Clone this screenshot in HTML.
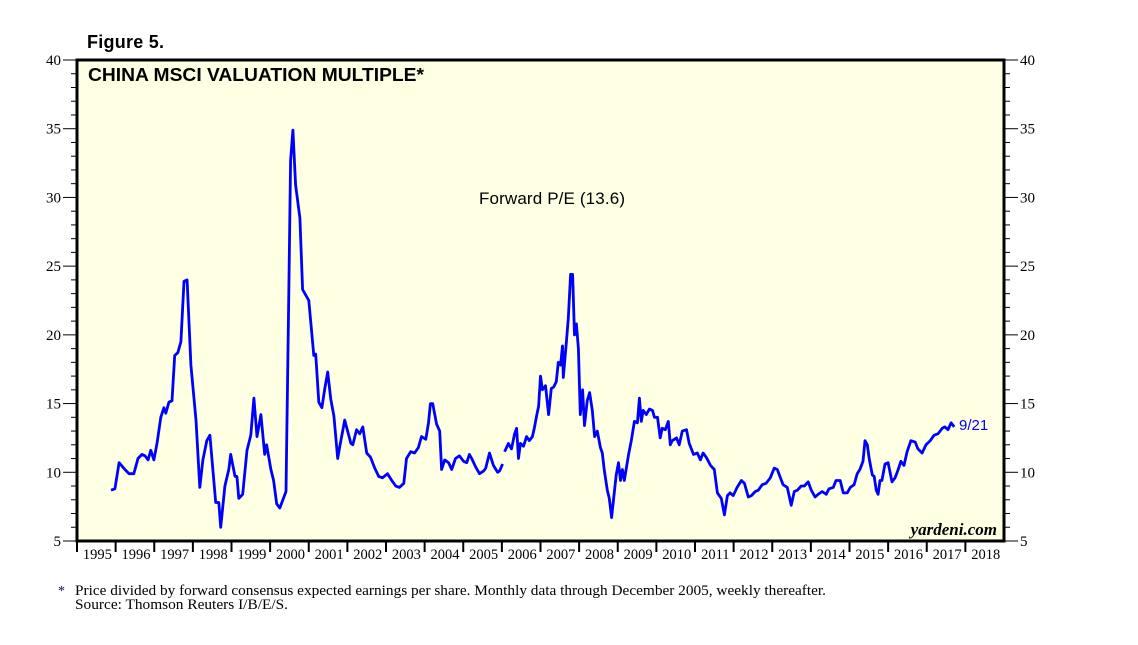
<!DOCTYPE html>
<html><head><meta charset="utf-8"><style>
body{margin:0;background:#fff;width:1138px;height:645px;overflow:hidden}
svg{display:block}
</style></head><body>
<svg width="1138" height="645" id="c">
<text x="87" y="48" font-family="Liberation Sans, sans-serif" font-weight="bold" font-size="18" textLength="77">Figure 5.</text>
<rect x="77" y="60" width="927" height="481" fill="#ffffe3"/>
<g id="axes"></g>
<path id="s1" fill="none" stroke="#0000ff" stroke-width="2.8" stroke-linejoin="round"/>
<path id="s2" fill="none" stroke="#0000ff" stroke-width="2.8" stroke-linejoin="round"/>
<rect x="77" y="60" width="927" height="481" fill="none" stroke="#000" stroke-width="3"/>
<text x="88" y="81" font-family="Liberation Sans, sans-serif" font-weight="bold" font-size="18" textLength="336" lengthAdjust="spacingAndGlyphs">CHINA MSCI VALUATION MULTIPLE*</text>
<text x="479" y="204" font-family="Liberation Sans, sans-serif" font-size="17" textLength="146">Forward P/E (13.6)</text>
<text x="959" y="430" font-family="Liberation Sans, sans-serif" font-size="15" fill="#0000ff">9/21</text>
<text x="997" y="535" text-anchor="end" font-family="Liberation Serif, serif" font-style="italic" font-weight="bold" font-size="17">yardeni.com</text>
<text x="58" y="595" font-family="Liberation Serif, serif" font-size="14" fill="#000080">*</text>
<text x="75" y="595" font-family="Liberation Serif, serif" font-size="14.5" textLength="751" lengthAdjust="spacingAndGlyphs">Price divided by forward consensus expected earnings per share. Monthly data through December 2005, weekly thereafter.</text>
<text x="75" y="609" font-family="Liberation Serif, serif" font-size="14.5" textLength="213" lengthAdjust="spacingAndGlyphs">Source: Thomson Reuters I/B/E/S.</text>
</svg>
<script>
const yTicks=[5,10,15,20,25,30,35,40];
const xYears=[1995,1996,1997,1998,1999,2000,2001,2002,2003,2004,2005,2006,2007,2008,2009,2010,2011,2012,2013,2014,2015,2016,2017,2018];
const monthlyT=[0.88,0.98,1.09,1.24,1.35,1.47,1.58,1.68,1.76,1.84,1.91,1.99,2.07,2.17,2.25,2.30,2.38,2.46,2.53,2.61,2.69,2.77,2.85,2.95,3.08,3.18,3.26,3.36,3.44,3.59,3.67,3.72,3.83,3.93,3.98,4.09,4.14,4.19,4.29,4.40,4.50,4.58,4.66,4.76,4.86,4.91,5.02,5.09,5.17,5.25,5.33,5.41,5.48,5.53,5.59,5.66,5.77,5.84,6.00,6.13,6.18,6.26,6.34,6.41,6.49,6.57,6.65,6.75,6.80,6.93,7.09,7.14,7.24,7.32,7.40,7.50,7.60,7.71,7.81,7.91,8.04,8.15,8.25,8.35,8.46,8.53,8.64,8.74,8.84,8.92,9.03,9.10,9.15,9.21,9.31,9.39,9.44,9.52,9.62,9.70,9.80,9.90,10.01,10.09,10.16,10.22,10.32,10.42,10.53,10.58,10.68,10.78,10.89,10.94,11.02];
const monthlyV=[8.7,8.8,10.7,10.2,9.9,9.9,11.0,11.3,11.2,10.9,11.6,10.9,12.1,14.0,14.7,14.3,15.1,15.2,18.5,18.7,19.5,23.9,24.0,17.8,13.8,8.9,10.9,12.3,12.7,7.8,7.8,6.0,9.0,10.2,11.3,9.7,9.7,8.1,8.4,11.6,12.7,15.4,12.6,14.2,11.3,12.0,10.2,9.4,7.7,7.4,8.0,8.6,22.5,32.7,34.9,30.9,28.5,23.3,22.5,18.5,18.6,15.1,14.7,16.0,17.3,15.3,14.1,11.0,11.8,13.8,12.1,12.0,13.1,12.8,13.3,11.4,11.1,10.3,9.7,9.6,9.9,9.4,9.0,8.9,9.2,11.0,11.5,11.4,11.8,12.6,12.4,13.6,15.0,15.0,13.5,13.0,10.2,10.9,10.7,10.2,11.0,11.2,10.8,10.7,11.3,11.0,10.4,9.9,10.1,10.3,11.4,10.5,10.0,10.1,10.6];
const weeklyT=[11.07,11.17,11.25,11.33,11.38,11.43,11.48,11.56,11.64,11.71,11.79,11.84,11.90,11.95,12.00,12.05,12.13,12.21,12.28,12.34,12.41,12.46,12.52,12.57,12.59,12.67,12.72,12.78,12.83,12.88,12.93,12.98,13.03,13.09,13.14,13.21,13.27,13.34,13.40,13.47,13.55,13.60,13.65,13.73,13.78,13.84,13.89,13.96,14.02,14.07,14.12,14.17,14.28,14.35,14.43,14.51,14.56,14.61,14.66,14.74,14.82,14.90,14.95,15.03,15.10,15.15,15.23,15.31,15.36,15.41,15.52,15.59,15.67,15.78,15.85,15.96,16.06,16.14,16.21,16.29,16.40,16.50,16.58,16.68,16.76,16.84,16.91,16.99,17.09,17.20,17.28,17.38,17.46,17.56,17.64,17.74,17.84,17.95,18.05,18.13,18.21,18.28,18.39,18.49,18.57,18.65,18.75,18.83,18.93,19.01,19.11,19.19,19.29,19.40,19.47,19.58,19.65,19.76,19.84,19.94,20.02,20.12,20.20,20.27,20.35,20.40,20.46,20.51,20.59,20.64,20.69,20.74,20.79,20.84,20.92,21.00,21.10,21.18,21.26,21.33,21.41,21.49,21.59,21.70,21.77,21.88,21.98,22.09,22.19,22.29,22.40,22.47,22.55,22.63,22.71];
const weeklyV=[11.5,12.1,11.7,12.8,13.2,11.0,12.1,11.9,12.6,12.3,12.6,13.2,14.1,14.8,17.0,16.0,16.3,14.2,16.1,16.2,16.6,18.0,17.8,19.2,16.9,19.5,21.2,24.4,24.4,20.0,20.8,19.0,14.2,16.0,13.4,15.2,15.8,14.5,12.6,13.0,11.8,11.4,10.2,8.7,8.1,6.7,8.0,9.8,10.7,9.4,10.2,9.4,11.3,12.3,13.7,13.6,15.4,13.7,14.5,14.2,14.6,14.5,14.0,14.0,12.5,13.2,13.1,13.7,12.0,12.3,12.5,12.0,13.0,13.1,12.1,11.3,11.4,10.9,11.4,11.1,10.5,10.2,8.5,8.1,6.9,8.3,8.5,8.3,8.9,9.4,9.2,8.2,8.3,8.6,8.7,9.1,9.2,9.6,10.3,10.2,9.6,9.1,8.9,7.6,8.6,8.7,9.0,9.0,9.3,8.7,8.2,8.4,8.6,8.4,8.8,8.9,9.4,9.4,8.5,8.5,8.9,9.1,9.9,10.2,10.8,12.3,12.0,11.0,9.8,9.7,8.7,8.4,9.4,9.4,10.6,10.7,9.3,9.6,10.2,10.8,10.5,11.5,12.3,12.2,11.7,11.4,12.0,12.3,12.7,12.8,13.2,13.3,13.1,13.6,13.3];
const X0=77,X1=1004,Y0=60,Y1=541,T0=1995,T1=2019,V0=5,V1=40;
const xs=t=>X0+(t-T0)/(T1-T0)*(X1-X0);
const ys=v=>Y1-(v-V0)/(V1-V0)*(Y1-Y0);
const NS='http://www.w3.org/2000/svg';
const ax=document.getElementById('axes');
function mk(tag,at){const e=document.createElementNS(NS,tag);for(const k in at)e.setAttribute(k,at[k]);ax.appendChild(e);return e;}
for(let v=V0;v<=V1;v++){
  const y=ys(v),maj=v%5===0;
  const l=mk('line',{x1:maj?63:71,x2:X0,y1:y,y2:y,stroke:'#000','stroke-width':1});
  
  
  const r=mk('line',{x1:X1,x2:maj?1018:1010,y1:y,y2:y,stroke:'#000','stroke-width':1});
  
  
}
yTicks.forEach(v=>{
  const a=mk('text',{x:61,y:ys(v)+5,'text-anchor':'end','font-family':'Liberation Serif, serif','font-size':15});
  a.textContent=v;
  
  
  const b=mk('text',{x:1020,y:ys(v)+5,'font-family':'Liberation Serif, serif','font-size':15});
  b.textContent=v;
  
  
});
xYears.forEach(yr=>{
  const x=xs(yr);
  const t=mk('line',{x1:x,x2:x,y1:Y1,y2:Y1+11,stroke:'#000','stroke-width':2});
  
  
  const lb=mk('text',{x:xs(yr+0.5)+1,y:559,'text-anchor':'middle','font-family':'Liberation Serif, serif','font-size':14.5});
  lb.textContent=yr;
  
  
});
const path=(T,V)=>T.map((t,i)=>(i?'L':'M')+xs(1995+t).toFixed(1)+','+ys(V[i]).toFixed(1)).join('');
document.getElementById('s1').setAttribute('d',path(monthlyT,monthlyV));
document.getElementById('s2').setAttribute('d',path(weeklyT,weeklyV));
</script>
</body></html>
